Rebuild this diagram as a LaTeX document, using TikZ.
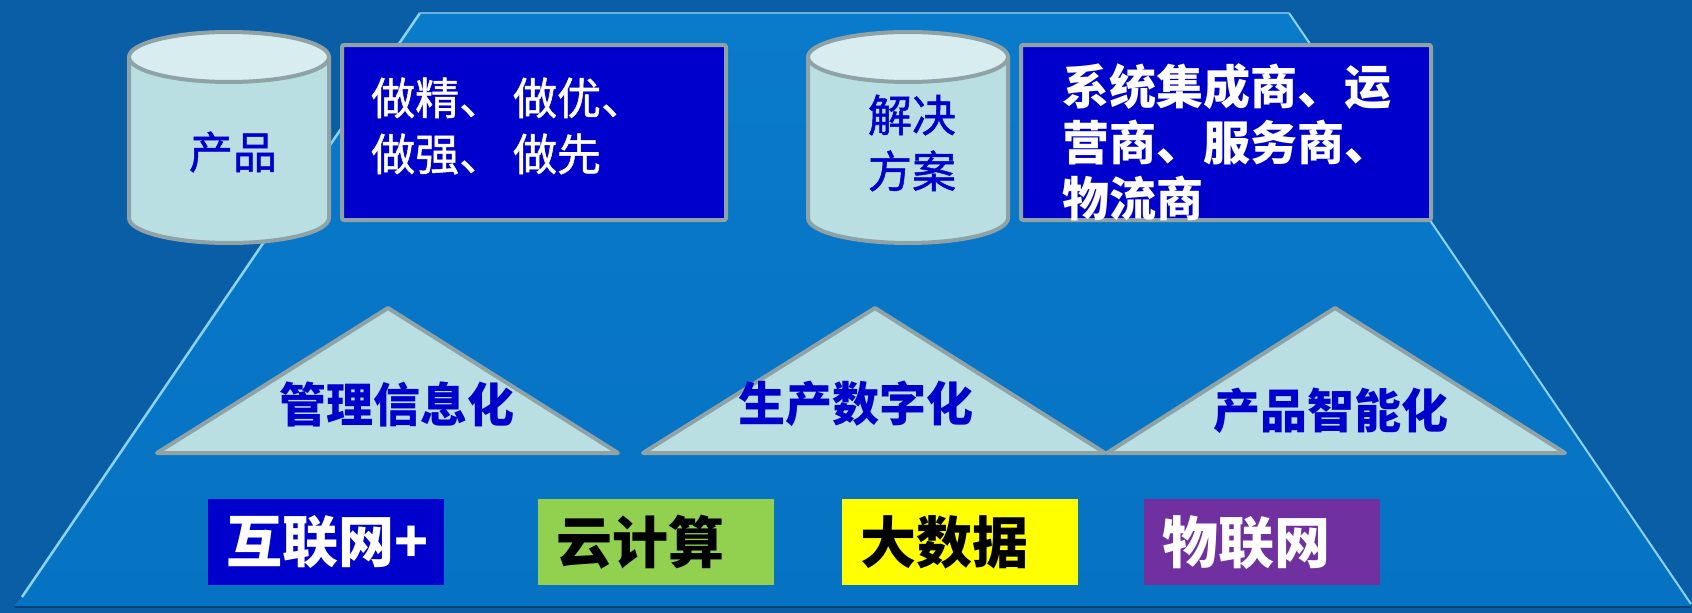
\documentclass[tikz,border=0pt]{standalone}
\usepackage{fontspec}
\newfontfamily\cjk{Noto Sans CJK SC}
\newfontfamily\cjkmed{Noto Sans CJK SC}[FakeBold=1.2]
\definecolor{bgdark}{HTML}{0A5EA6}
\definecolor{trapc}{HTML}{0672C2}
\definecolor{trapt}{HTML}{0A7ACB}
\definecolor{edgec}{HTML}{8CD2F2}
\definecolor{cylbody}{HTML}{B9DFE2}
\definecolor{cyltop}{HTML}{D7EDEF}
\definecolor{outl}{HTML}{8FA3A6}
\definecolor{navy}{HTML}{0000CC}
\definecolor{lgreen}{HTML}{92D050}
\definecolor{yel}{HTML}{FFFF00}
\definecolor{purp}{HTML}{7030A0}
\begin{document}
\begin{tikzpicture}[x=1pt,y=-1pt,
  cylline/.style={draw=outl, line width=4pt},
  bluebox/.style={draw=outl, line width=4pt, fill=navy, rounded corners=2pt},
  tri/.style={draw=outl, line width=4pt, fill=cylbody, line join=round},
  cyltext/.style={inner sep=0pt, text=navy, align=center, font=\cjkmed\fontsize{44}{56}\selectfont},
  boxtext/.style={inner sep=0pt, anchor=west, align=left, text=white},
  trilabel/.style={inner sep=0pt, text=navy, font=\cjk\bfseries\fontsize{47}{56}\selectfont},
  techbox/.style={inner xsep=18pt, inner ysep=0pt, text width=200pt, minimum height=86pt, align=left, font=\cjk\bfseries\fontsize{56}{60}\selectfont}
]
\useasboundingbox (0,0) rectangle (1692,613);
\fill[bgdark] (0,0) rectangle (1692,613);
% trapezoid
\coordinate (tl) at (420,13);
\coordinate (tr) at (1289,13);
\coordinate (br) at (1691,604);
\coordinate (bl) at (22,597);
\shade[top color=trapt, bottom color=trapc] (tl) -- (tr) -- (br) -- (1691,606) -- (14,606) -- (bl) -- cycle;
\draw[edgec, line width=2.5pt] (tl) -- (bl);
\draw[edgec, line width=2pt] (tr) -- (br);
\draw[trapt!60!white, line width=1.5pt] (tl) -- (tr);
\draw[bgdark!70!black, line width=2pt] (14,607) -- (1691,607);

% cylinder 1
\fill[cylbody] (129,57) rectangle (329,218);
\fill[cylbody] (229,218) ellipse [x radius=100, y radius=25];
\draw[cylline] (129,57) -- (129,218) arc[start angle=180, end angle=0, x radius=100, y radius=25] -- (329,57);
\draw[cylline, fill=cyltop] (229,57) ellipse [x radius=100, y radius=25];
\node[cyltext] (cyl1) at (233,152) {产品};

% box 1
\node[bluebox, anchor=north west, minimum width=384pt, minimum height=175pt, inner sep=0pt] (box1) at (340,43) {};
\node[boxtext, font=\cjkmed\fontsize{44}{56}\selectfont] (txt1) at (371,126) {做精、 做优、\\做强、 做先};

% cylinder 2
\fill[cylbody] (808,57) rectangle (1008,218);
\fill[cylbody] (908,218) ellipse [x radius=100, y radius=25];
\draw[cylline] (808,57) -- (808,218) arc[start angle=180, end angle=0, x radius=100, y radius=25] -- (1008,57);
\draw[cylline, fill=cyltop] (908,57) ellipse [x radius=100, y radius=25];
\node[cyltext] (cyl2) at (912,143) {解决\\方案};

% box 2
\node[bluebox, anchor=north west, minimum width=410pt, minimum height=175pt, inner sep=0pt] (box2) at (1019,43) {};
\node[boxtext, font=\cjk\bfseries\fontsize{47}{56}\selectfont] (txt2) at (1062,142) {系统集成商、运\\营商、服务商、\\物流商};

% triangles
\coordinate (a1) at (388,308); \coordinate (l1) at (157,453); \coordinate (r1) at (618,453);
\coordinate (a2) at (875,308); \coordinate (l2) at (643,453); \coordinate (r2) at (1105,453);
\coordinate (a3) at (1335,308); \coordinate (l3) at (1107,453); \coordinate (r3) at (1565,453);
\draw[tri] (l1) -- (a1) -- (r1) -- cycle;
\draw[tri] (l2) -- (a2) -- (r2) -- cycle;
\draw[tri] (l3) -- (a3) -- (r3) -- cycle;
\node[trilabel] (lab1) at (397,404) {管理信息化};
\node[trilabel] (lab2) at (856,404) {生产数字化};
\node[trilabel] (lab3) at (1331,411) {产品智能化};

% bottom technology boxes
\node[techbox, fill=navy, text=white, anchor=north west] (tech1) at (208,499) {互联网+};
\node[techbox, fill=lgreen, text=black, anchor=north west] (tech2) at (538,499) {云计算};
\node[techbox, fill=yel, text=black, anchor=north west] (tech3) at (842,499) {大数据};
\node[techbox, fill=purp, text=white, anchor=north west] (tech4) at (1144,499) {物联网};
\end{tikzpicture}
\end{document}
